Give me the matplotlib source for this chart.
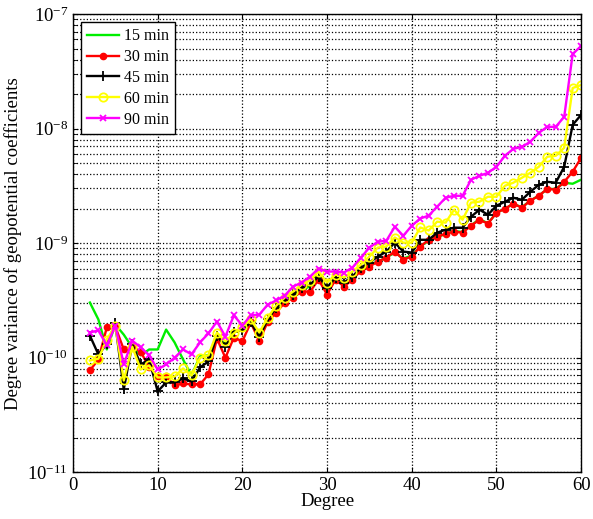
import numpy as np
import matplotlib
matplotlib.use('Agg')
import matplotlib.pyplot as plt
from matplotlib.ticker import LogLocator, NullFormatter

plt.rcParams['font.family'] = ['Liberation Serif', 'DejaVu Serif']
plt.rcParams['mathtext.fontset'] = 'stix'

# degree variances, in units of 1e-10
deg = list(range(2, 61))

v15 = [3.03, 2.16, 1.18, 1.95, 1.59, 1.23, 1.05, 1.18, 1.18, 1.76,
       1.36, 0.965, 0.70, 1.03, 1.05, 1.53, 1.31, 1.69, 1.76, 2.03,
       1.59, 2.16, 2.69, 3.16, 3.49, 3.94, 4.18, 5.11, 3.94, 4.81,
       4.27, 5.01, 5.88, 6.50, 6.91, 7.48, 8.28, 7.34, 7.79, 9.34,
       10.5, 11.3, 12.0, 12.8, 12.5, 14.3, 16.2, 14.9, 18.4, 20.0,
       22.0, 20.6, 23.5, 26.0, 29.6, 29.8, 33.7, 33.0, 35.8]

v30 = [0.774, 0.965, 1.84, 1.87, 1.18, 1.25, 1.13, 0.822, 0.686, 0.686,
       0.573, 0.596, 0.584, 0.584, 0.715, 1.47, 1.00, 1.50, 1.39, 2.03,
       1.39, 2.07, 2.48, 3.03, 3.35, 3.78, 3.78, 4.81, 3.56, 4.81,
       4.18, 4.81, 5.77, 6.25, 6.91, 7.48, 8.44, 7.19, 7.64, 9.34,
       10.7, 11.4, 12.1, 12.6, 12.35, 14.2, 16.0, 14.8, 18.4, 20.0,
       22.1, 20.4, 23.5, 25.9, 29.8, 29.3, 34.3, 42.0, 55.6]

v45 = [1.56, 1.07, 1.31, 1.99, 0.529, 1.31, 0.873, 0.965, 0.508, 0.608,
       0.608, 0.660, 0.621, 0.822, 0.928, 1.56, 1.25, 1.69, 1.76, 2.03,
       1.53, 2.16, 2.74, 3.22, 3.56, 4.10, 4.35, 5.11, 4.10, 5.01,
       4.53, 5.11, 6.12, 6.77, 7.64, 8.44, 10.1, 8.44, 8.28, 10.7,
       10.7, 12.35, 13.1, 13.65, 13.65, 17.0, 19.6, 17.7, 21.2, 23.0,
       24.9, 23.9, 28.1, 32.3, 34.3, 33.7, 46.4, 107.8, 131.8]

v60 = [0.946, 0.98, 1.44, 1.91, 0.633, 1.25, 0.790, 0.856, 0.673, 0.673,
       0.686, 0.806, 0.700, 1.00, 1.05, 1.66, 1.39, 1.63, 1.87, 2.16,
       1.66, 2.24, 2.85, 3.35, 3.78, 4.35, 4.72, 5.65, 4.53, 5.32,
       5.01, 5.65, 6.50, 7.64, 9.15, 9.34, 11.2, 10.1, 10.1, 13.7,
       12.9, 15.4, 15.1, 19.6, 16.0, 22.6, 23.0, 25.4, 25.4, 31.7,
       33.7, 37.2, 41.1, 46.4, 56.8, 57.9, 68.0, 226.0, 240.0]

v90 = [1.66, 1.73, 1.28, 1.91, 0.873, 1.41, 1.23, 1.05, 0.790, 0.873,
       1.00, 1.18, 1.07, 1.36, 1.63, 2.07, 1.53, 2.34, 1.91, 2.34,
       2.38, 2.91, 3.16, 3.49, 4.18, 4.53, 5.11, 6.00, 5.65, 5.65,
       5.54, 6.12, 7.48, 9.15, 10.3, 10.5, 13.9, 11.6, 14.2, 16.4,
       17.4, 20.8, 24.9, 25.9, 25.9, 35.8, 38.7, 41.1, 46.4, 57.9,
       66.6, 69.3, 76.7, 91.8, 103.6, 103.6, 126.6, 448.0, 526.0]

fig = plt.figure(figsize=(5.93, 5.19), dpi=100)
ax = fig.add_axes([0.123, 0.09, 0.857, 0.883])

ax.semilogy(deg, np.array(v15)*1e-10, '-', color='#00ee00', lw=1.7, label='15 min')
ax.semilogy(deg, np.array(v30)*1e-10, '-o', color='red', lw=1.7, ms=4.5, label='30 min')
ax.semilogy(deg, np.array(v45)*1e-10, '-+', color='black', lw=1.7, ms=7, mew=1.3, label='45 min')
ax.semilogy(deg, np.array(v60)*1e-10, '-o', color='yellow', mfc='none', lw=1.7, ms=6, mew=1.3, label='60 min')
ax.semilogy(deg, np.array(v90)*1e-10, '-x', color='magenta', lw=1.7, ms=5, mew=1.3, label='90 min')

ax.set_xlim(0, 60)
ax.set_ylim(1e-11, 1e-7)
ax.set_xticks([0, 10, 20, 30, 40, 50, 60])
ax.yaxis.set_major_locator(LogLocator(base=10, numticks=10))
ax.yaxis.set_minor_locator(LogLocator(base=10, subs=np.arange(2, 10), numticks=20))
ax.yaxis.set_minor_formatter(NullFormatter())

ax.grid(True, which='major', axis='both', linestyle=':', color='black', lw=0.9)
ax.grid(True, which='minor', axis='y', linestyle=':', color='black', lw=0.9)
ax.tick_params(which='both', direction='in', top=True, right=True, labelsize=13.5)
ax.tick_params(which='minor', length=3)
for s in ax.spines.values():
    s.set_linewidth(1.0)

ax.set_xlabel('Degree', fontsize=13.5, labelpad=-1)
ax.set_ylabel('Degree variance of geopotential coefficients', fontsize=13.5, labelpad=4)

leg = ax.legend(loc='upper left', fontsize=11.5, fancybox=False, framealpha=1,
                edgecolor='black', handlelength=2.0, borderaxespad=0.5,
                labelspacing=0.3, handletextpad=0.3)
leg.get_frame().set_linewidth(1.0)

fig.savefig('out.png', dpi=100)
